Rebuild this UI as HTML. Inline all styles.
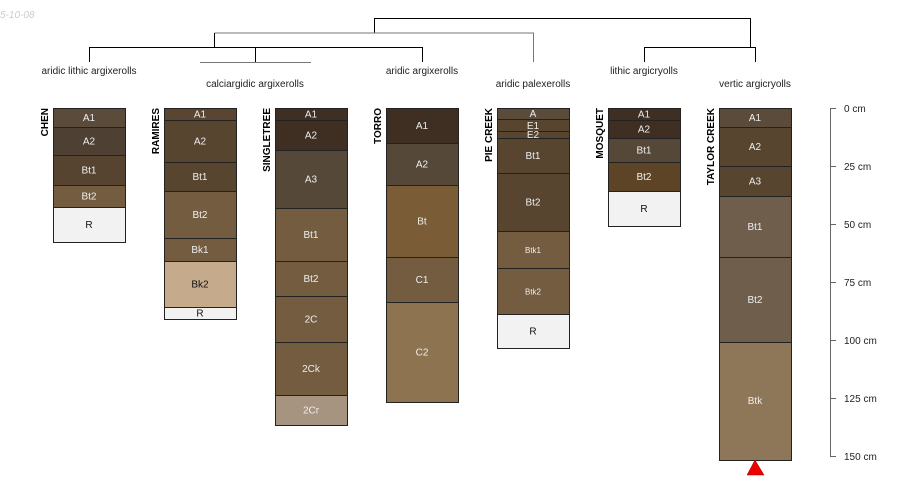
<!DOCTYPE html>
<html><head><meta charset="utf-8"><style>body{margin:0;background:#fff}svg{display:block}text{font-family:"Liberation Sans",sans-serif}</style></head><body>
<svg width="900" height="500" viewBox="0 0 900 500">
<text x="0" y="18" font-size="10" fill="#ccc" font-style="italic">5-10-08</text>
<g stroke="#000" fill="none" stroke-width="1">
<path d="M374.5 33V18.5H750.5V47"/>
<path d="M214.5 33H533.5V62" stroke="#777"/>
<path d="M214.5 33V47.5"/>
<path d="M89.5 62V47.5H422.5V62M255.5 47V62"/>
<path d="M200 62.5H311" stroke="#777"/>
<path d="M644.5 62V47.5H755.5V62"/>
</g>
<g font-size="10" fill="#222" text-anchor="middle">
<text x="89" y="74">aridic lithic argixerolls</text>
<text x="255" y="87">calciargidic argixerolls</text>
<text x="422" y="74">aridic argixerolls</text>
<text x="533" y="87">aridic palexerolls</text>
<text x="644" y="74">lithic argicryolls</text>
<text x="755" y="87">vertic argicryolls</text>
</g>
<g stroke="#222" stroke-width="1">
<!-- CHEN -->
<rect x="53.5" y="108.5" width="72" height="19" fill="#5b4b3b"/>
<rect x="53.5" y="127.5" width="72" height="28" fill="#4e4033"/>
<rect x="53.5" y="155.5" width="72" height="30" fill="#574430"/>
<rect x="53.5" y="185.5" width="72" height="22" fill="#735c40"/>
<rect x="53.5" y="207.5" width="72" height="35" fill="#f2f2f2"/>
<!-- RAMIRES -->
<rect x="164.5" y="108.5" width="72" height="12" fill="#5a4530"/>
<rect x="164.5" y="120.5" width="72" height="42" fill="#574530"/>
<rect x="164.5" y="162.5" width="72" height="29" fill="#574530"/>
<rect x="164.5" y="191.5" width="72" height="47" fill="#735c40"/>
<rect x="164.5" y="238.5" width="72" height="23" fill="#735c40"/>
<rect x="164.5" y="261.5" width="72" height="46" fill="#c6aa8c"/>
<rect x="164.5" y="307.5" width="72" height="12" fill="#f2f2f2"/>
<!-- SINGLETREE -->
<rect x="275.5" y="108.5" width="72" height="12" fill="#3e2f22"/>
<rect x="275.5" y="120.5" width="72" height="30" fill="#3e2f22"/>
<rect x="275.5" y="150.5" width="72" height="58" fill="#564838"/>
<rect x="275.5" y="208.5" width="72" height="53" fill="#735c40"/>
<rect x="275.5" y="261.5" width="72" height="35" fill="#735c40"/>
<rect x="275.5" y="296.5" width="72" height="46" fill="#735c40"/>
<rect x="275.5" y="342.5" width="72" height="53" fill="#735c40"/>
<rect x="275.5" y="395.5" width="72" height="30" fill="#a69480"/>
<!-- TORRO -->
<rect x="386.5" y="108.5" width="72" height="35" fill="#3e2f22"/>
<rect x="386.5" y="143.5" width="72" height="42" fill="#564838"/>
<rect x="386.5" y="185.5" width="72" height="72" fill="#7a5c36"/>
<rect x="386.5" y="257.5" width="72" height="45" fill="#735c40"/>
<rect x="386.5" y="302.5" width="72" height="100" fill="#8e7350"/>
<!-- PIE CREEK -->
<rect x="497.5" y="108.5" width="72" height="11" fill="#5b4b3b"/>
<rect x="497.5" y="119.5" width="72" height="12" fill="#574530"/>
<rect x="497.5" y="131.5" width="72" height="7" fill="#574530"/>
<rect x="497.5" y="138.5" width="72" height="35" fill="#574530"/>
<rect x="497.5" y="173.5" width="72" height="58" fill="#574530"/>
<rect x="497.5" y="231.5" width="72" height="37" fill="#735c40"/>
<rect x="497.5" y="268.5" width="72" height="46" fill="#735c40"/>
<rect x="497.5" y="314.5" width="72" height="34" fill="#f2f2f2"/>
<!-- MOSQUET -->
<rect x="608.5" y="108.5" width="72" height="12" fill="#3e2f22"/>
<rect x="608.5" y="120.5" width="72" height="18" fill="#3e2f22"/>
<rect x="608.5" y="138.5" width="72" height="24" fill="#564838"/>
<rect x="608.5" y="162.5" width="72" height="29" fill="#5e4426"/>
<rect x="608.5" y="191.5" width="72" height="35" fill="#f2f2f2"/>
<!-- TAYLOR CREEK -->
<rect x="719.5" y="108.5" width="72" height="19" fill="#5b4b3b"/>
<rect x="719.5" y="127.5" width="72" height="39" fill="#574530"/>
<rect x="719.5" y="166.5" width="72" height="30" fill="#574530"/>
<rect x="719.5" y="196.5" width="72" height="61" fill="#6e5e4b"/>
<rect x="719.5" y="257.5" width="72" height="85" fill="#6e5e4b"/>
<rect x="719.5" y="342.5" width="72" height="118" fill="#8e7758"/>
</g>
<g font-size="10" fill="#eee" text-anchor="middle">
<text x="89" y="121">A1</text><text x="89" y="144.5">A2</text><text x="89" y="173.5">Bt1</text><text x="89" y="199.5">Bt2</text><text x="89" y="228" fill="#111">R</text>
<text x="200" y="117.5">A1</text><text x="200" y="144.5">A2</text><text x="200" y="180">Bt1</text><text x="200" y="218">Bt2</text><text x="200" y="253">Bk1</text><text x="200" y="287.5" fill="#111">Bk2</text><text x="200" y="316.5" fill="#111">R</text>
<text x="311" y="117.5">A1</text><text x="311" y="138.5">A2</text><text x="311" y="182.5">A3</text><text x="311" y="238">Bt1</text><text x="311" y="282">Bt2</text><text x="311" y="322.5">2C</text><text x="311" y="372">2Ck</text><text x="311" y="413.5">2Cr</text>
<text x="422" y="129">A1</text><text x="422" y="167.5">A2</text><text x="422" y="224.5">Bt</text><text x="422" y="283">C1</text><text x="422" y="355.5">C2</text>
<text x="533" y="117">A</text><text x="533" y="129">E1</text><text x="533" y="138">E2</text><text x="533" y="159">Bt1</text><text x="533" y="205.5">Bt2</text><text x="533" y="253" font-size="8">Btk1</text><text x="533" y="294.5" font-size="8">Btk2</text><text x="533" y="334.5" fill="#111">R</text>
<text x="644" y="117.5">A1</text><text x="644" y="132.5">A2</text><text x="644" y="153.5">Bt1</text><text x="644" y="180">Bt2</text><text x="644" y="212" fill="#111">R</text>
<text x="755" y="121">A1</text><text x="755" y="150">A2</text><text x="755" y="184.5">A3</text><text x="755" y="230">Bt1</text><text x="755" y="303">Bt2</text><text x="755" y="404">Btk</text>
</g>
<g font-size="10" font-weight="bold" fill="#000" text-anchor="end">
<text transform="translate(48,108) rotate(-90)">CHEN</text>
<text transform="translate(159,108) rotate(-90)">RAMIRES</text>
<text transform="translate(270,108) rotate(-90)">SINGLETREE</text>
<text transform="translate(381,108) rotate(-90)">TORRO</text>
<text transform="translate(492,108) rotate(-90)">PIE CREEK</text>
<text transform="translate(603,108) rotate(-90)">MOSQUET</text>
<text transform="translate(714,108) rotate(-90)">TAYLOR CREEK</text>
</g>
<polygon points="755,460 747,475 764,475" fill="#e00" stroke="#900" stroke-width=".5"/>
<g stroke="#666" fill="none"><path d="M836 108.5H830.5V456.5H836M830 166.5H836M830 224.5H836M830 282.5H836M830 340.5H836M830 398.5H836"/></g>
<g font-size="10" fill="#222">
<text x="844" y="112">0 cm</text><text x="844" y="170">25 cm</text><text x="844" y="228">50 cm</text><text x="844" y="286">75 cm</text><text x="844" y="344">100 cm</text><text x="844" y="402">125 cm</text><text x="844" y="460">150 cm</text>
</g>
</svg>
</body></html>
